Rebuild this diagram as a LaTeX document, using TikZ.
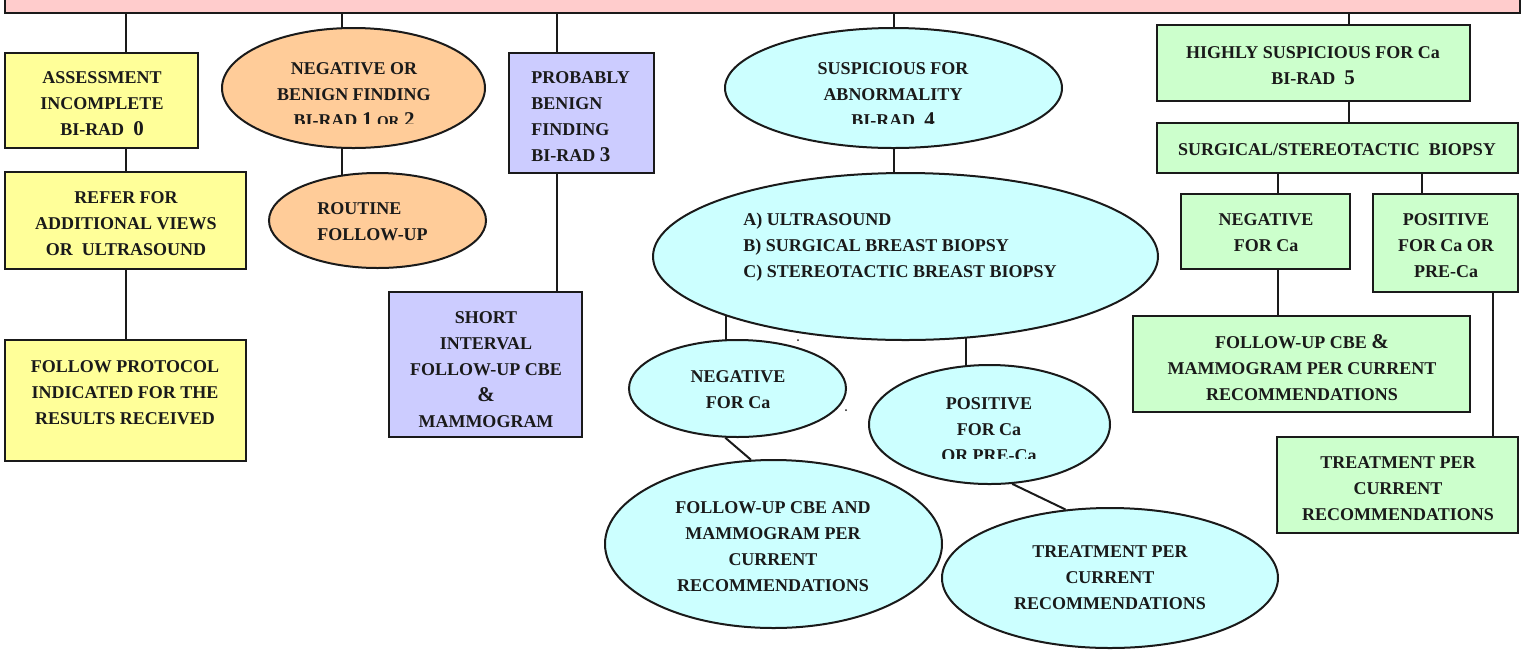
\documentclass[tikz,border=0pt]{standalone}
\usepackage{fontspec}
\setmainfont{Liberation Serif}
\usetikzlibrary{fit,shapes.geometric,backgrounds}
\definecolor{yel}{HTML}{FFFF99}
\definecolor{org}{HTML}{FFCC99}
\definecolor{pur}{HTML}{CCCCFF}
\definecolor{cya}{HTML}{CCFFFF}
\definecolor{grn}{HTML}{CCFFCC}
\definecolor{pnk}{HTML}{FFCCCC}
\definecolor{ink}{HTML}{1A1A1A}
\newcommand\dg[1]{{\fontsize{10.5}{13}\selectfont #1}}
\newcommand\sm[1]{{\fontsize{7.5}{13}\selectfont #1}}
\begin{document}
\begin{tikzpicture}[x=0.5pt,y=-0.5pt,
  box/.style={draw=ink, line width=1pt, inner sep=0pt, rectangle},
  ell/.style={draw=ink, line width=1pt, inner sep=0pt, ellipse},
  txt/.style={font=\fontsize{9}{13}\selectfont\bfseries, align=center, inner sep=0pt, text=ink, anchor=base},
  ltxt/.style={txt, align=left, anchor=base west},
  conn/.style={draw=ink, line width=1pt}]
\clip (0,0) rectangle (1528,650);
% top bar
\node[box, fill=pnk, fit={(5,-40) (1520,13)}] (top) {};
% yellow column
\node[box, fill=yel, fit={(5,53) (198,148)}] (y1) {};
\node[box, fill=yel, fit={(5,172) (246,269)}] (y2) {};
\node[box, fill=yel, fit={(5,340) (246,461)}] (y3) {};
% orange
\node[ell, fill=org, minimum width=131.5pt, minimum height=60pt] (oe1) at (353.5,88) {};
\node[ell, fill=org, minimum width=108.5pt, minimum height=47.5pt] (oe2) at (377.5,220.5) {};
% purple
\node[box, fill=pur, fit={(509,53) (654,173)}] (p1) {};
\node[box, fill=pur, fit={(389,292) (582,437)}] (p2) {};
% cyan
\node[ell, fill=cya, minimum width=168.5pt, minimum height=60pt] (ce1) at (893.5,88) {};
\node[ell, fill=cya, minimum width=252.5pt, minimum height=83.5pt] (ce2) at (905.5,256.5) {};
\node[ell, fill=cya, minimum width=108.5pt, minimum height=48.5pt] (ce3) at (737.5,388.5) {};
\node[ell, fill=cya, minimum width=120.5pt, minimum height=59.5pt] (ce4) at (989.5,424.5) {};
\node[ell, fill=cya, minimum width=168.5pt, minimum height=84pt] (ce5) at (773.5,544) {};
\node[ell, fill=cya, minimum width=168pt, minimum height=70pt] (ce6) at (1110,578) {};
% green
\node[box, fill=grn, fit={(1157,25) (1470,101)}] (g1) {};
\node[box, fill=grn, fit={(1157,123) (1518,173)}] (g2) {};
\node[box, fill=grn, fit={(1181,194) (1350,269)}] (g3) {};
\node[box, fill=grn, fit={(1373,194) (1518,292)}] (g4) {};
\node[box, fill=grn, fit={(1133,316) (1470,412)}] (g5) {};
\node[box, fill=grn, fit={(1277,437) (1518,533)}] (g6) {};
% connector x positions
\coordinate (xy) at (126,0);
\coordinate (xa) at (342,0);
\coordinate (xb) at (557,0);
\coordinate (xc) at (1349,0);
\coordinate (xd) at (726,0);
\coordinate (xe) at (966,0);
\coordinate (xf) at (1278,0);
\coordinate (xg) at (1422,0);
\coordinate (xh) at (1493,0);
\begin{pgfonlayer}{background}
\draw[conn] (xy |- top.south) -- (xy |- y1.north);
\draw[conn] (xy |- y1.south) -- (xy |- y2.north);
\draw[conn] (y2.south) -- (y3.north);
\draw[conn] (xa |- top.south) -- (xa |- oe1.center);
\draw[conn] (xa |- oe1.center) -- (xa |- oe2.center);
\draw[conn] (xb |- top.south) -- (xb |- p1.north);
\draw[conn] (xb |- p1.south) -- (xb |- p2.north);
\draw[conn] (top.south -| ce1.center) -- (ce1.center);
\draw[conn] (ce1.center) -- (ce1.center |- ce2.center);
\draw[conn] (xd |- ce2.center) -- (xd |- ce3.center);
\draw[conn] (xe |- ce2.center) -- (xe |- ce4.center);
\draw[conn] (ce3.256.7) -- (ce5.105.8);
\draw[conn] (ce4.291.6) -- (ce6.123.9);
\draw[conn] (xc |- top.south) -- (xc |- g1.north);
\draw[conn] (xc |- g1.south) -- (xc |- g2.north);
\draw[conn] (xf |- g2.south) -- (xf |- g3.north);
\draw[conn] (xg |- g2.south) -- (xg |- g4.north);
\draw[conn] (xf |- g3.south) -- (xf |- g5.north);
\draw[conn] (xh |- g4.south) -- (xh |- g6.north);
\end{pgfonlayer}
% stray dots
\fill[ink] (798,340) circle (1) coordinate (dot1);
\fill[ink] (846,410) circle (1) coordinate (dot2);
% texts (anchor = baseline of last line)
\node[txt] (ty1) at (102,135) {ASSESSMENT\\INCOMPLETE\\BI-RAD\ \ \dg{0}};
\node[txt] (ty2) at (126,255) {REFER FOR\\ADDITIONAL VIEWS\\OR\ \ ULTRASOUND};
\node[txt] (ty3) at (125,424) {FOLLOW PROTOCOL\\INDICATED FOR THE\\RESULTS RECEIVED};
\begin{scope}
\clip (250,30) rectangle (460,123);
\node[txt] (toe1) at (354,126) {NEGATIVE OR\\BENIGN FINDING\\BI-RAD \dg{1} \sm{OR} \dg{2}};
\end{scope}
\node[ltxt] (toe2) at (317,240) {ROUTINE\\FOLLOW-UP};
\node[ltxt] (tp1) at (531,161) {PROBABLY\\BENIGN\\FINDING\\BI-RAD \dg{3}};
\node[txt] (tp2) at (486,427) {SHORT\\INTERVAL\\FOLLOW-UP CBE\\\dg{\&}\\MAMMOGRAM};
\begin{scope}
\clip (760,30) rectangle (1030,123);
\node[txt] (tce1) at (893,126) {SUSPICIOUS FOR\\ABNORMALITY\\BI-RAD\ \ \dg{4}};
\end{scope}
\node[ltxt] (tce2) at (743,277) {A) ULTRASOUND\\B) SURGICAL BREAST BIOPSY\\C) STEREOTACTIC BREAST BIOPSY};
\node[txt] (tce3) at (738,408) {NEGATIVE\\FOR Ca};
\begin{scope}
\clip (880,370) rectangle (1100,458);
\node[txt] (tce4) at (989,461) {POSITIVE\\FOR Ca\\OR PRE-Ca};
\end{scope}
\node[txt] (tce5) at (773,591) {FOLLOW-UP CBE AND\\MAMMOGRAM PER\\CURRENT\\RECOMMENDATIONS};
\node[txt] (tce6) at (1110,609) {TREATMENT PER\\CURRENT\\RECOMMENDATIONS};
\node[txt] (tg1) at (1313,84) {HIGHLY SUSPICIOUS FOR Ca\\BI-RAD\ \ \dg{5}};
\node[txt] (tg2) at (1337,155) {SURGICAL/STEREOTACTIC\ \ BIOPSY};
\node[txt] (tg3) at (1266,251) {NEGATIVE\\FOR Ca};
\node[txt] (tg4) at (1446,277) {POSITIVE\\FOR Ca OR\\PRE-Ca};
\node[txt] (tg5) at (1302,400) {FOLLOW-UP CBE \dg{\&}\\MAMMOGRAM PER CURRENT\\RECOMMENDATIONS};
\node[txt] (tg6) at (1398,520) {TREATMENT PER\\CURRENT\\RECOMMENDATIONS};
\end{tikzpicture}
\end{document}
